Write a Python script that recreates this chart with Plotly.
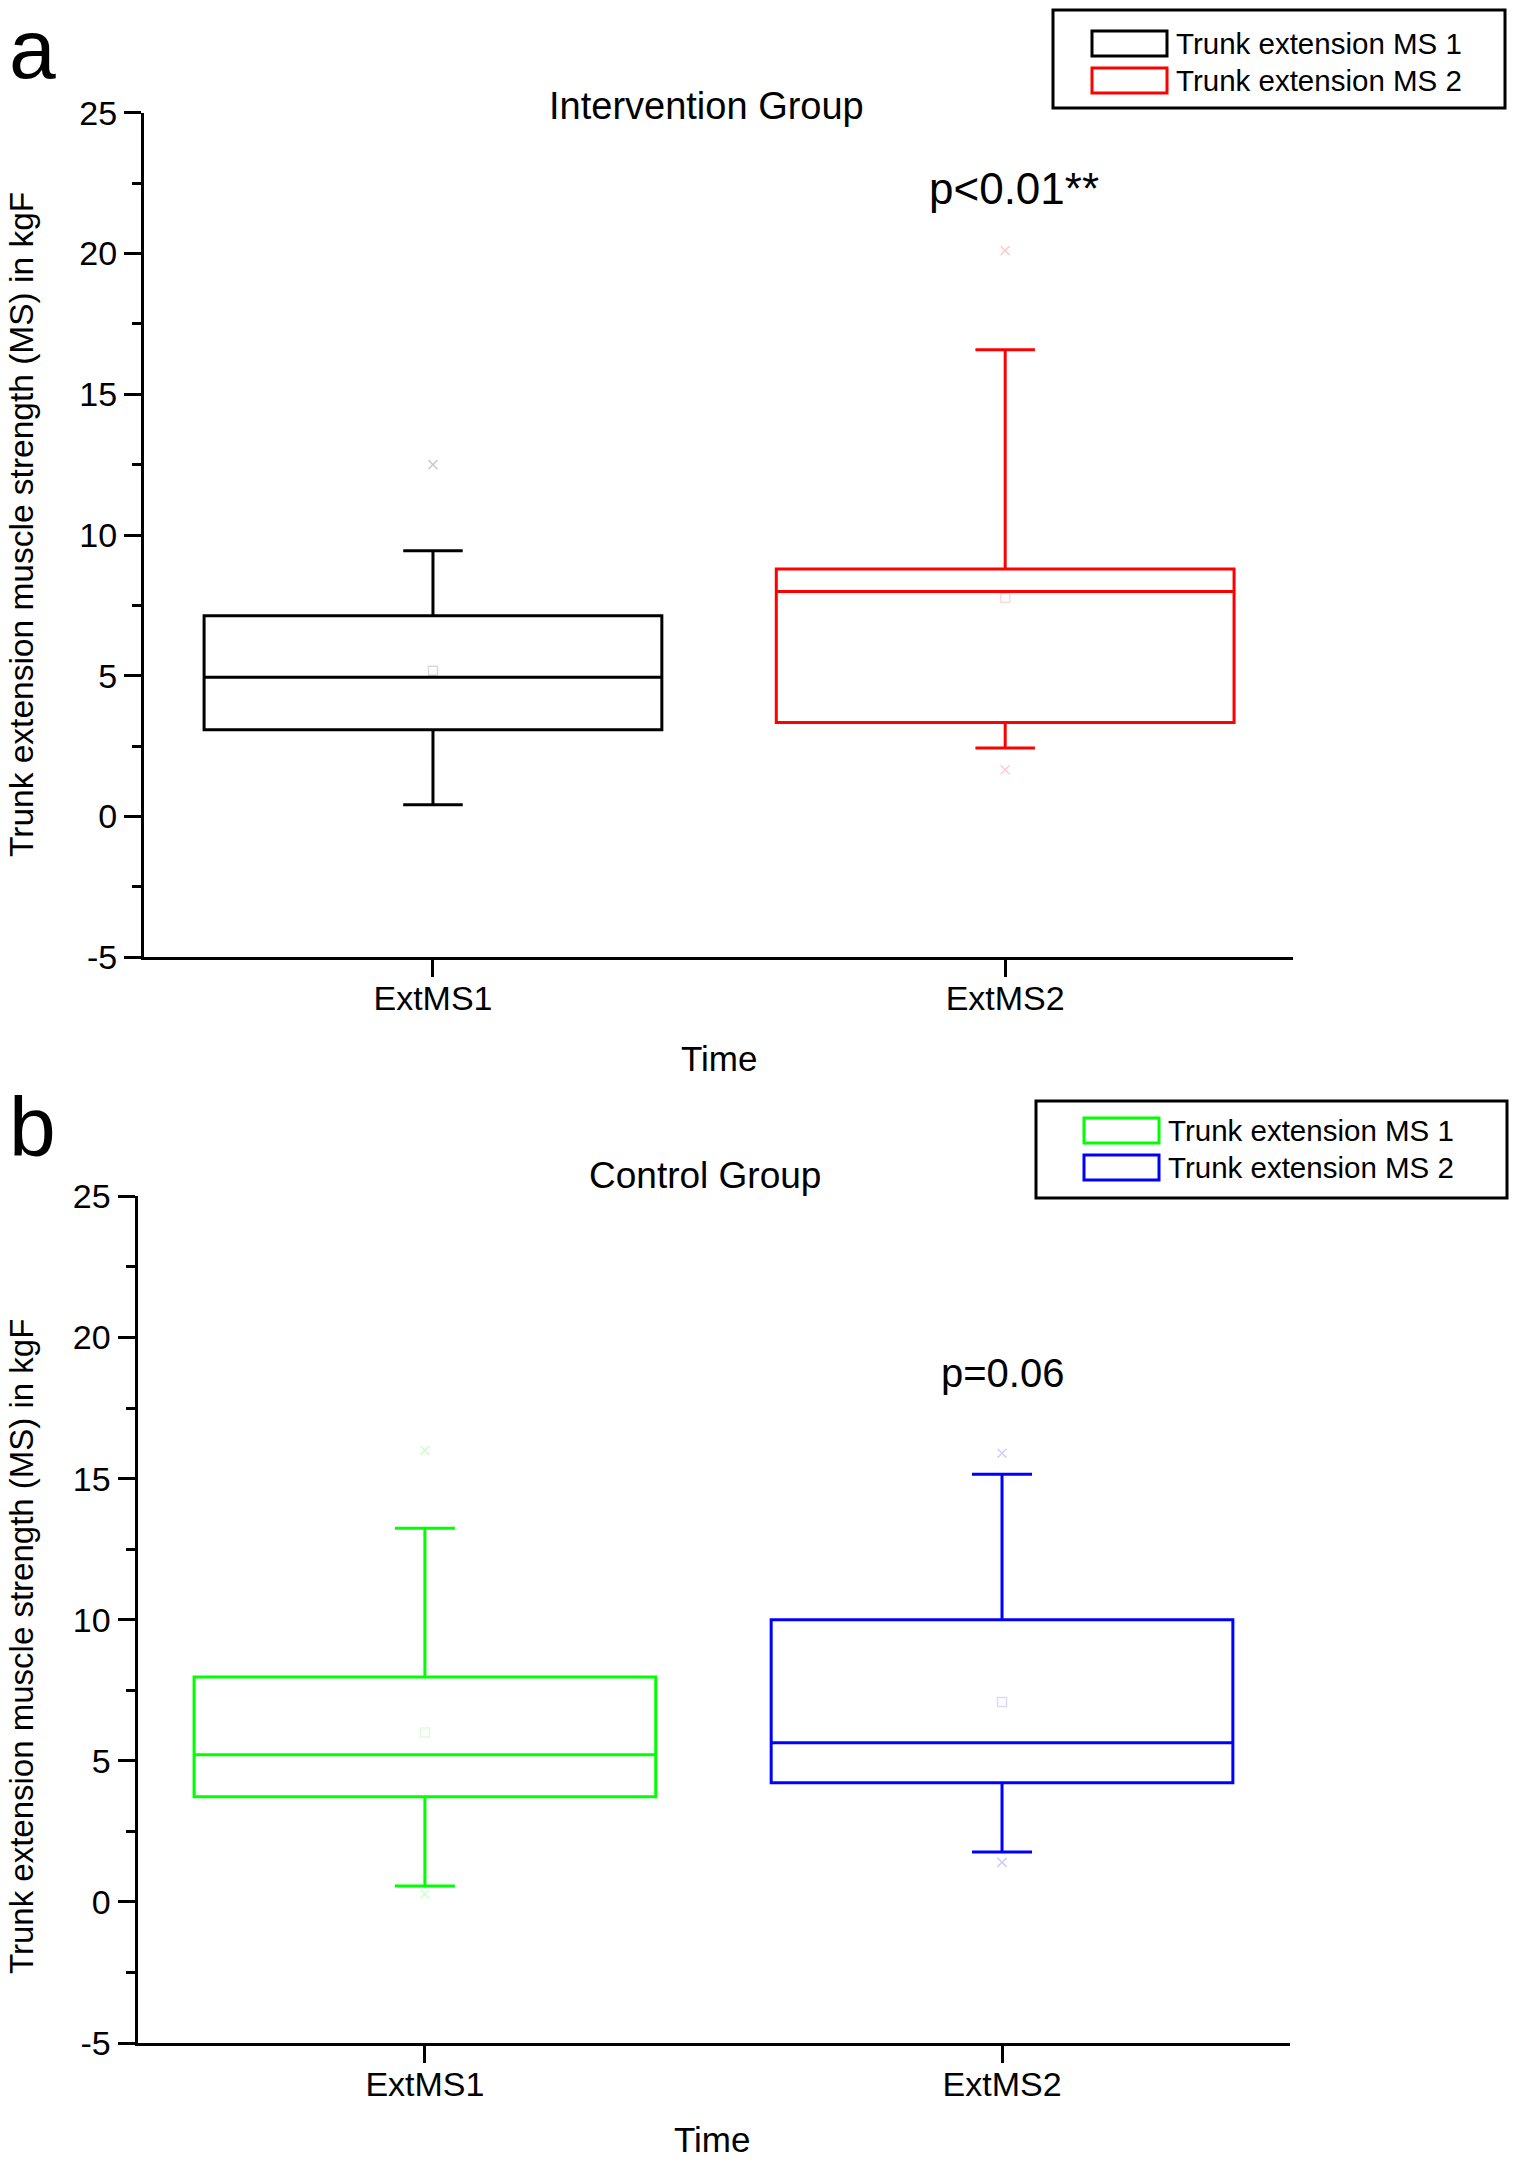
import plotly.graph_objects as go
from plotly.subplots import make_subplots

# ---------------- data ----------------
categories = ["ExtMS1", "ExtMS2"]
series_names = ["Trunk extension MS 1", "Trunk extension MS 2"]

# Panel a: Intervention Group
int_q1 = [3.08, 3.34]
int_median = [4.95, 7.99]
int_q3 = [7.13, 8.79]
int_lowerfence = [0.42, 2.43]
int_upperfence = [9.44, 16.58]
int_mean = [5.18, 7.77]
int_extreme_hi = [12.5, 20.1]
int_extreme_lo = [None, 1.66]

# Panel b: Control Group
ctl_q1 = [3.73, 4.22]
ctl_median = [5.21, 5.64]
ctl_q3 = [7.97, 10.0]
ctl_lowerfence = [0.56, 1.77]
ctl_upperfence = [13.24, 15.15]
ctl_mean = [6.0, 7.08]
ctl_extreme_hi = [16.0, 15.9]
ctl_extreme_lo = [0.28, 1.4]

int_colors = ["#000000", "#FF0000"]
ctl_colors = ["#00FF00", "#0000FF"]

y_ticks = [-5, 0, 5, 10, 15, 20, 25]
y_ticktext = ["-5", "0", "5", "10", "15", "20", "25"]

W, H = 1515, 2165
FONT = "Liberation Sans, Arial, sans-serif"


def px(x):
    return x / W


def py(y):
    return 1 - y / H


fig = make_subplots(rows=2, cols=1)


def add_panel(row, q1, med, q3, lo, hi, mean, ehi, elo, colors):
    for i, cat in enumerate(categories):
        fig.add_trace(go.Box(
            x=[cat], q1=[q1[i]], median=[med[i]], q3=[q3[i]],
            lowerfence=[lo[i]], upperfence=[hi[i]],
            name=series_names[i], width=0.8, whiskerwidth=0.13,
            line=dict(color=colors[i], width=3), fillcolor="rgba(255,255,255,0)",
            boxpoints=False, showlegend=False, hoverinfo="skip"),
            row=row, col=1)
        fig.add_trace(go.Scatter(
            x=[cat], y=[mean[i]], mode="markers",
            marker=dict(symbol="square-open", size=9, color=colors[i], opacity=0.15,
                        line=dict(width=1.5)),
            showlegend=False, hoverinfo="skip"), row=row, col=1)
        ex = [v for v in (ehi[i], elo[i]) if v is not None]
        fig.add_trace(go.Scatter(
            x=[cat] * len(ex), y=ex, mode="markers",
            marker=dict(symbol="x-thin-open", size=9, color=colors[i], opacity=0.2,
                        line=dict(width=1.5, color=colors[i])),
            showlegend=False, hoverinfo="skip"), row=row, col=1)


add_panel(1, int_q1, int_median, int_q3, int_lowerfence, int_upperfence,
          int_mean, int_extreme_hi, int_extreme_lo, int_colors)
add_panel(2, ctl_q1, ctl_median, ctl_q3, ctl_lowerfence, ctl_upperfence,
          ctl_mean, ctl_extreme_hi, ctl_extreme_lo, ctl_colors)

axis_common = dict(showline=True, linecolor="black", linewidth=3, ticks="outside",
                   ticklen=17, tickwidth=3, tickcolor="black", showgrid=False,
                   zeroline=False, mirror=False, automargin=False,
                   tickfont=dict(family=FONT, size=34, color="black"))
minor = dict(dtick=2.5, ticklen=9, tickwidth=3, tickcolor="black", ticks="outside")

fig.update_layout(
    width=W, height=H, margin=dict(l=0, r=0, t=0, b=0, pad=0, autoexpand=False),
    paper_bgcolor="white", plot_bgcolor="white", showlegend=False,
    boxmode="overlay",
    xaxis=dict(domain=[px(144), px(1293)], range=[-0.505, 1.503], type="category",
               categoryorder="array", categoryarray=categories,
               ticklabelstandoff=-8, **axis_common),
    yaxis=dict(domain=[py(957.3), py(112.7)], range=[-5, 25], tickvals=y_ticks,
               ticktext=y_ticktext, ticklabelstandoff=0, minor=minor, **axis_common),
    xaxis2=dict(domain=[px(137.5), px(1290)], range=[-0.498, 1.499], type="category",
                categoryorder="array", categoryarray=categories,
                ticklabelstandoff=-8, **axis_common),
    yaxis2=dict(domain=[py(2043), py(1196.4)], range=[-5, 25], tickvals=y_ticks,
                ticktext=y_ticktext, ticklabelstandoff=0, minor=minor, **axis_common),
)


def text(x, y, s, size, xanchor="center", angle=0, yanchor="middle"):
    fig.add_annotation(x=px(x), y=py(y), xref="paper", yref="paper", text=s,
                       showarrow=False, xanchor=xanchor, yanchor=yanchor,
                       textangle=angle,
                       font=dict(family=FONT, size=size, color="black"))


# panel letters
text(32, 0, "a", 84, yanchor="top")
text(32, 1127, "b", 84)
# titles
text(706, 106, "Intervention Group", 38)
text(705, 1175, "Control Group", 37)
# p-values
text(1014, 189, "p<0.01**", 44)
text(1002, 1373, "p=0.06", 40)
# axis titles
text(719, 1058, "Time", 35)
text(712, 2139, "Time", 35)
ytitle = "Trunk extension muscle strength (MS) in kgF"
text(21, 525, ytitle, 33.5, angle=-90)
text(21, 1647, ytitle, 33, angle=-90)


# manual legends
def legend(box, rows, colors, text_x):
    x0, y0, x1, y1 = box
    fig.add_shape(type="rect", xref="paper", yref="paper",
                  x0=px(x0), x1=px(x1), y0=py(y1), y1=py(y0),
                  line=dict(color="black", width=3), fillcolor="rgba(0,0,0,0)")
    for (sx0, sy0, sx1, sy1), c, name in zip(rows, colors, series_names):
        fig.add_shape(type="rect", xref="paper", yref="paper",
                      x0=px(sx0), x1=px(sx1), y0=py(sy1), y1=py(sy0),
                      line=dict(color=c, width=3), fillcolor="rgba(0,0,0,0)")
        text(text_x, (sy0 + sy1) / 2, name, 29.5, xanchor="left")


legend((1053, 10, 1505, 108), [(1092, 31, 1167, 56), (1092, 68, 1167, 93)], int_colors, 1174)
legend((1036, 1101, 1507, 1198), [(1084, 1118, 1159, 1143), (1084, 1155, 1159, 1180)], ctl_colors, 1166)

fig.write_html("out.html", config={"displayModeBar": False},
               post_script="document.body.style.margin='0';document.body.style.overflow='hidden';")
